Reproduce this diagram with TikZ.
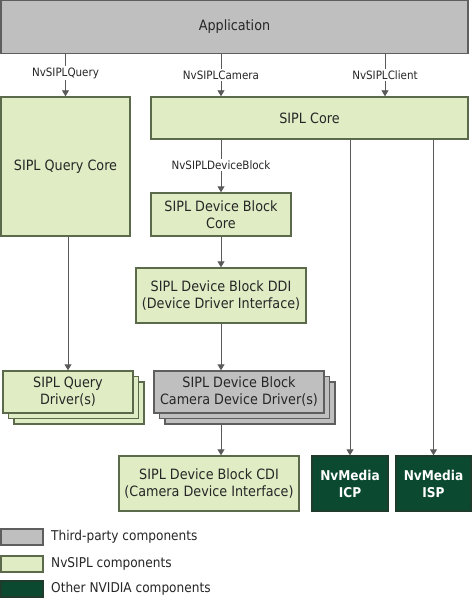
\documentclass[tikz,border=0pt]{standalone}
\usepackage{fontspec}
\setmainfont{DejaVu Sans Condensed}
\usetikzlibrary{arrows.meta}

\definecolor{tpgray}{HTML}{BFBFBF}
\definecolor{tpline}{HTML}{5E5E5E}
\definecolor{sgreen}{HTML}{DFECC4}
\definecolor{sline}{HTML}{5C6A4C}
\definecolor{nvgreen}{HTML}{0B4A31}
\definecolor{nvline}{HTML}{1F3B2B}
\definecolor{arrgray}{HTML}{5A5A5A}

\begin{document}
\begin{tikzpicture}[x=1pt,y=-1pt,
  every node/.style={inner sep=0pt,font=\fontsize{14.2}{17}\selectfont,text=black!85,align=center},
  thirdbox/.style={draw=tpline,fill=tpgray,line width=1.4pt},
  siplbox/.style={draw=sline,fill=sgreen,line width=1.4pt},
  nvbox/.style={draw=nvline,fill=nvgreen,line width=1.4pt,text=white,font=\fontsize{13.5}{17}\selectfont\bfseries},
  arr/.style={draw=arrgray,line width=0.9pt,-{Triangle[width=7pt,length=6pt]}},
  lbl/.style={fill=white,inner sep=1.5pt,font=\fontsize{11.5}{13}\selectfont},
  legtxt/.style={anchor=west,font=\fontsize{13.5}{16}\selectfont}]
\useasboundingbox (0,0) rectangle (474,604);

% top
\node[thirdbox,minimum width=467pt,minimum height=53pt] (app) at (234.5,27) {Application};
\node[siplbox,minimum width=129pt,minimum height=139pt] (qcore) at (65.5,166.5) {SIPL Query Core};
\node[siplbox,minimum width=317pt,minimum height=42pt] (score) at (309.5,118) {SIPL Core};

% device block chain
\node[siplbox,minimum width=140pt,minimum height=43pt] (dbcore) at (221,214.5) {SIPL Device Block\\Core};
\node[siplbox,minimum width=170pt,minimum height=55pt] (ddi) at (221,295.5) {SIPL Device Block DDI\\(Device Driver Interface)};

% stacked drivers
\node[siplbox,minimum width=130pt,minimum height=42pt] (qdrvc) at (79,403) {};
\node[siplbox,minimum width=130pt,minimum height=42pt] (qdrvb) at (73.5,397.5) {};
\node[siplbox,minimum width=130pt,minimum height=42pt] (qdrv) at (68,392) {SIPL Query\\Driver(s)};
\node[thirdbox,minimum width=170pt,minimum height=42pt] (camdrvc) at (250,403) {};
\node[thirdbox,minimum width=170pt,minimum height=42pt] (camdrvb) at (244.5,397.5) {};
\node[thirdbox,minimum width=170pt,minimum height=42pt] (camdrv) at (239,392) {SIPL Device Block\\Camera Device Driver(s)};

% bottom row
\node[siplbox,minimum width=180pt,minimum height=55pt] (cdi) at (209,483.5) {SIPL Device Block CDI\\(Camera Device Interface)};
\node[nvbox,minimum width=76pt,minimum height=55pt] (icp) at (350,483.5) {NvMedia\\ICP};
\node[nvbox,minimum width=75pt,minimum height=55pt] (isp) at (433.5,483.5) {NvMedia\\ISP};

% connectors
\coordinate (client) at (385,0);
\draw[arr] (app.south -| qcore.north) -- (qcore.north) node[lbl,pos=0.45] {NvSIPLQuery};
\draw[arr] (app.south -| dbcore.north) -- (score.north -| dbcore.north) node[lbl,pos=0.5] {NvSIPLCamera};
\draw[arr] (app.south -| client) -- (score.north -| client) node[lbl,pos=0.5] {NvSIPLClient};
\draw[arr] (score.south -| dbcore.north) -- (dbcore.north) node[lbl,pos=0.48] {NvSIPLDeviceBlock};
\draw[arr] (dbcore.south) -- (ddi.north);
\draw[arr] (ddi.south) -- (camdrv.north -| ddi.south);
\draw[arr] (qcore.south -| qdrv.north) -- (qdrv.north);
\draw[arr] (camdrvc.south -| ddi.south) -- (cdi.north -| ddi.south);
\draw[arr] (score.south -| icp.north) -- (icp.north);
\draw[arr] (score.south -| isp.north) -- (isp.north);

% legend
\node[thirdbox,minimum width=42pt,minimum height=16pt] (lthird) at (22,537) {};
\node[siplbox,minimum width=42pt,minimum height=16pt] (lsipl) at (22,564) {};
\node[nvbox,minimum width=42pt,minimum height=16pt] (lnv) at (22,589) {};
\node[legtxt] (tthird) at (51,537) {Third-party components};
\node[legtxt] (tsipl) at (51,564) {NvSIPL components};
\node[legtxt] (tnv) at (51,589) {Other NVIDIA components};
\end{tikzpicture}
\end{document}
